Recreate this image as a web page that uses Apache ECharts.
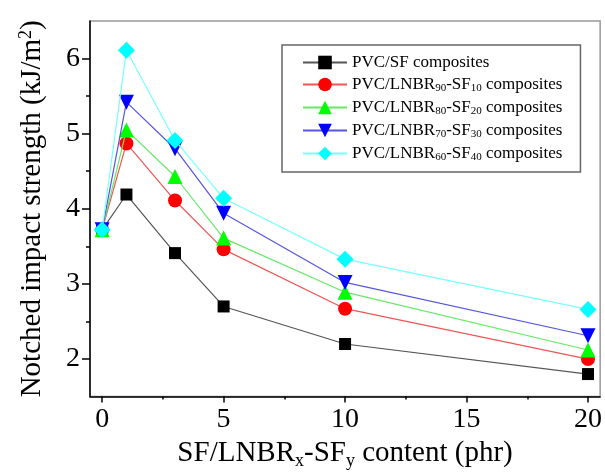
<!DOCTYPE html>
<html>
<head>
<meta charset="utf-8">
<script src="https://cdn.jsdelivr.net/npm/echarts@6/dist/echarts.min.js"></script>
<style>
  html, body { margin: 0; padding: 0; background: #fff; }
  #chart { width: 605px; height: 475px; }
</style>
</head>
<body>
<div id="chart"></div>
<script>
// 数据
var contents = [0, 1, 3, 5, 10, 20];
var pvcSF = [3.72, 4.19, 3.41, 2.70, 2.20, 1.80];
var lnbr90 = [3.72, 4.87, 4.11, 3.46, 2.67, 2.00];
var lnbr80 = [3.72, 5.05, 4.43, 3.61, 2.89, 2.12];
var lnbr70 = [3.72, 5.42, 4.80, 3.94, 3.02, 2.31];
var lnbr60 = [3.72, 6.11, 4.91, 4.14, 3.33, 2.66];
var xMajor = [0, 5, 10, 15, 20];
var xMinor = [2.5, 7.5, 12.5, 17.5];
var yMajor = [2, 3, 4, 5, 6];
var yMinor = [2.5, 3.5, 4.5, 5.5];

var seriesNames = [
  'PVC/SF composites',
  'PVC/LNBR{sub|90}-SF{sub|10} composites',
  'PVC/LNBR{sub|80}-SF{sub|20} composites',
  'PVC/LNBR{sub|70}-SF{sub|30} composites',
  'PVC/LNBR{sub|60}-SF{sub|40} composites'
];

(function () {
  var myChart = echarts.init(document.getElementById('chart'));
  var font = 'Liberation Serif';

  function pairs(vals) {
    return contents.map(function (x, i) { return [x, vals[i]]; });
  }

  function makeSeries(idx, vals, symbol, rotate, size, color, lineColor) {
    return {
      name: seriesNames[idx],
      type: 'line',
      data: pairs(vals),
      symbol: symbol,
      symbolRotate: rotate,
      symbolSize: size,
      itemStyle: { color: color },
      lineStyle: { color: lineColor, width: 1.2 },
      emphasis: { disabled: true },
      z: 2 + idx
    };
  }

  var baseX = {
    type: 'value',
    min: -0.5,
    max: 20.5,
    position: 'bottom',
    splitLine: { show: false }
  };
  var baseY = {
    type: 'value',
    min: 1.5,
    max: 6.5,
    position: 'left',
    splitLine: { show: false }
  };

  var option = {
    animation: false,
    grid: {
      left: 90,
      right: 3,
      top: 21,
      bottom: 78,
      show: true,
      borderColor: '#999',
      borderWidth: 1.5
    },
    legend: {
      orient: 'vertical',
      left: 282,
      top: 45,
      padding: [9, 18, 9, 20],
      borderColor: '#666',
      borderWidth: 1.5,
      itemWidth: 44,
      itemHeight: 17,
      itemGap: 5,
      textStyle: {
        fontFamily: font,
        fontSize: 17,
        color: '#000',
        rich: {
          sub: { fontFamily: font, fontSize: 11, verticalAlign: 'bottom', padding: [8, 0, 0, 0] }
        }
      },
      data: seriesNames
    },
    xAxis: [
      Object.assign({}, baseX, {
        name: 'SF/LNBR{sub|x}-SF{sub|y} content (phr)',
        nameLocation: 'middle',
        nameGap: 38,
        nameTextStyle: {
          fontFamily: font,
          fontSize: 29,
          color: '#000',
          rich: {
            sub: { fontFamily: font, fontSize: 18, verticalAlign: 'bottom', padding: [16, 0, 0, 0] }
          }
        },
        axisLine: { onZero: false, lineStyle: { color: '#000', width: 1.5 } },
        axisTick: { customValues: xMajor, length: 6, lineStyle: { color: '#000', width: 1.5 } },
        axisLabel: { customValues: xMajor, fontFamily: font, fontSize: 28, color: '#000', margin: 9 }
      }),
      Object.assign({}, baseX, {
        axisLine: { show: false, onZero: false },
        axisTick: { customValues: xMinor, length: 3, lineStyle: { color: '#000', width: 1.5 } },
        axisLabel: { show: false }
      })
    ],
    yAxis: [
      Object.assign({}, baseY, {
        name: 'Notched impact strength (kJ/m{sup|2})',
        nameLocation: 'middle',
        nameGap: 43,
        nameTextStyle: {
          fontFamily: font,
          fontSize: 29,
          color: '#000',
          rich: {
            sup: { fontFamily: font, fontSize: 18, verticalAlign: 'top', padding: [0, 0, 12, 0] }
          }
        },
        axisLine: { show: true, onZero: false, lineStyle: { color: '#000', width: 1.5 } },
        axisTick: { show: true, customValues: yMajor, length: 8, lineStyle: { color: '#000', width: 1.5 } },
        axisLabel: { customValues: yMajor, fontFamily: font, fontSize: 28, color: '#000', margin: 10 }
      }),
      Object.assign({}, baseY, {
        axisLine: { show: false, onZero: false },
        axisTick: { show: true, customValues: yMinor, length: 4, lineStyle: { color: '#000', width: 1.5 } },
        axisLabel: { show: false }
      })
    ],
    series: [
      makeSeries(0, pvcSF, 'rect', 0, 12, '#000000', '#555555'),
      makeSeries(1, lnbr90, 'circle', 0, 14, '#ff0000', '#f05555'),
      makeSeries(2, lnbr80, 'triangle', 0, 15, '#00ff00', '#66e866'),
      makeSeries(3, lnbr70, 'triangle', 180, 15, '#0000ff', '#5555dd'),
      makeSeries(4, lnbr60, 'diamond', 0, 17, '#00ffff', '#77ffff')
    ]
  };

  myChart.setOption(option);
  window.addEventListener('resize', function () {
    myChart.resize();
  });
})();
</script>
</body>
</html>
